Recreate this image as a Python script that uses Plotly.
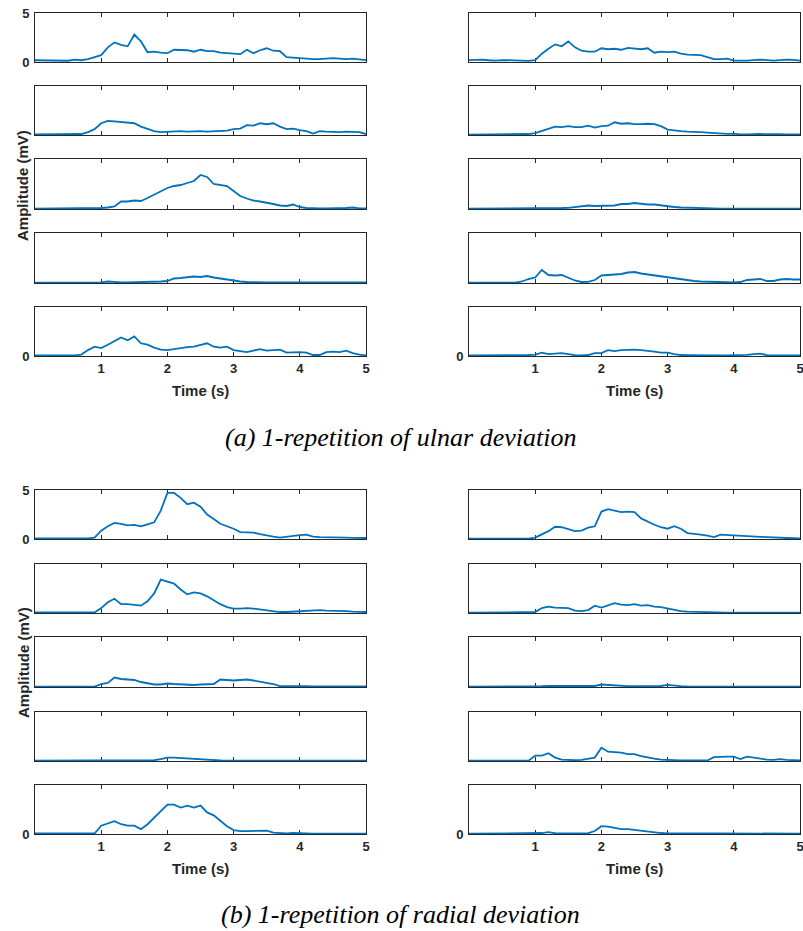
import plotly.graph_objects as go

# ---------------- data (mV), sampled every 0.1 s from 0 to 5 s ----------------
time_s = [round(i * 0.1, 1) for i in range(51)]

# (a) ulnar deviation, left column (channels 1-5)
a_L1 = [0.18,0.17,0.15,0.15,0.12,0.13,0.25,0.18,0.3,0.5, 0.7,1.5,2.0,1.75,1.6,2.8,2.1,1.0,1.05,0.95,
        0.9,1.25,1.2,1.2,1.05,1.25,1.1,1.1,0.95,0.9, 0.85,0.8,1.25,0.9,1.2,1.4,1.15,1.1,0.5,0.45,
        0.4,0.3,0.3,0.3,0.35,0.4,0.35,0.3,0.35,0.3, 0.2]
a_L2 = [0.05,0.05,0.05,0.05,0.05,0.05,0.05,0.1,0.3,0.6, 1.2,1.45,1.4,1.35,1.25,1.2,0.85,0.6,0.4,0.3,
        0.35,0.35,0.4,0.35,0.4,0.4,0.35,0.4,0.4,0.45, 0.6,0.65,1.0,0.95,1.2,1.1,1.2,0.85,0.6,0.65,
        0.5,0.4,0.15,0.4,0.35,0.3,0.3,0.35,0.35,0.3, 0.1]
a_L3 = [0.03,0.03,0.03,0.03,0.03,0.03,0.03,0.03,0.03,0.03, 0.1,0.15,0.25,0.75,0.75,0.85,0.8,1.1,1.45,1.75,
        2.1,2.3,2.4,2.6,2.8,3.4,3.2,2.5,2.4,2.3, 1.8,1.3,1.05,0.85,0.75,0.65,0.5,0.35,0.3,0.45,
        0.2,0.1,0.05,0.05,0.05,0.05,0.05,0.1,0.15,0.05, 0.05]
a_L4 = [0.04,0.04,0.04,0.04,0.04,0.04,0.04,0.04,0.04,0.04, 0.06,0.15,0.08,0.06,0.06,0.07,0.08,0.1,0.1,0.15,
        0.2,0.45,0.5,0.55,0.65,0.6,0.7,0.55,0.45,0.3, 0.25,0.15,0.1,0.06,0.05,0.05,0.05,0.05,0.05,0.05,
        0.05,0.05,0.05,0.05,0.05,0.05,0.05,0.05,0.05,0.05, 0.05]
a_L5 = [0.05,0.05,0.05,0.05,0.05,0.05,0.05,0.15,0.6,0.95, 0.8,1.15,1.5,1.9,1.6,2.0,1.3,1.15,0.85,0.65,
        0.6,0.7,0.85,0.9,0.95,1.1,1.3,0.95,0.85,0.95, 0.6,0.5,0.4,0.55,0.7,0.55,0.6,0.65,0.35,0.4,
        0.4,0.35,0.1,0.1,0.4,0.45,0.4,0.55,0.3,0.15, 0.05]

# (a) ulnar deviation, right column (channels 6-10)
a_R1 = [0.2,0.22,0.25,0.18,0.15,0.2,0.18,0.1,0.12,0.12, 0.2,0.85,1.35,1.8,1.6,2.1,1.5,1.15,1.05,1.05,
        1.4,1.3,1.35,1.25,1.45,1.35,1.3,1.4,0.95,1.05, 1.0,1.05,0.85,0.75,0.75,0.7,0.5,0.3,0.3,0.35,
        0.15,0.12,0.15,0.2,0.25,0.2,0.15,0.2,0.25,0.22, 0.15]
a_R2 = [0.03,0.03,0.03,0.03,0.03,0.03,0.03,0.03,0.05,0.1, 0.2,0.4,0.6,0.85,0.8,0.9,0.8,0.8,0.95,0.75,
        0.9,0.95,1.3,1.15,1.2,1.1,1.1,1.15,1.1,0.9, 0.55,0.45,0.4,0.35,0.35,0.3,0.25,0.2,0.1,0.12,
        0.15,0.05,0.05,0.1,0.1,0.08,0.1,0.08,0.06,0.08, 0.05]
a_R3 = [0.03,0.03,0.03,0.03,0.03,0.03,0.03,0.03,0.03,0.03, 0.03,0.05,0.05,0.07,0.1,0.12,0.2,0.3,0.35,0.3,
        0.3,0.35,0.35,0.5,0.5,0.6,0.5,0.45,0.45,0.35, 0.3,0.2,0.15,0.12,0.1,0.08,0.06,0.04,0.03,0.03,
        0.03,0.03,0.03,0.03,0.03,0.03,0.03,0.03,0.03,0.03, 0.03]
a_R4 = [0.04,0.04,0.04,0.04,0.04,0.04,0.04,0.04,0.15,0.4, 0.55,1.3,0.8,0.75,0.8,0.55,0.25,0.1,0.12,0.3,
        0.75,0.8,0.85,0.9,1.05,1.1,0.95,0.85,0.75,0.65, 0.55,0.45,0.35,0.3,0.2,0.15,0.12,0.1,0.08,0.06,
        0.05,0.1,0.3,0.35,0.4,0.2,0.2,0.35,0.4,0.35, 0.35]
a_R5 = [0.05,0.05,0.05,0.05,0.05,0.05,0.05,0.05,0.05,0.1, 0.15,0.35,0.2,0.25,0.3,0.2,0.08,0.05,0.1,0.3,
        0.3,0.6,0.5,0.6,0.65,0.65,0.6,0.55,0.45,0.35, 0.35,0.2,0.1,0.08,0.06,0.05,0.05,0.05,0.05,0.05,
        0.05,0.05,0.12,0.2,0.25,0.08,0.06,0.05,0.05,0.05, 0.05]

# (b) radial deviation, left column
b_L1 = [0.05,0.05,0.05,0.05,0.05,0.05,0.05,0.05,0.05,0.15, 0.85,1.3,1.65,1.55,1.4,1.45,1.3,1.5,1.7,2.9,
        4.7,4.7,4.2,3.55,3.7,3.3,2.5,2.05,1.55,1.3, 1.05,0.7,0.7,0.65,0.5,0.35,0.25,0.15,0.25,0.3,
        0.4,0.45,0.25,0.2,0.2,0.18,0.15,0.15,0.12,0.12, 0.1]
b_L2 = [0.05,0.05,0.05,0.05,0.05,0.05,0.05,0.05,0.05,0.05, 0.5,1.1,1.45,0.9,0.9,0.85,0.75,1.2,2.0,3.4,
        3.2,3.0,2.4,1.9,2.1,2.0,1.7,1.3,0.9,0.6, 0.45,0.45,0.5,0.45,0.35,0.3,0.2,0.1,0.1,0.15,
        0.2,0.2,0.25,0.3,0.25,0.25,0.2,0.2,0.15,0.12, 0.1]
b_L3 = [0.03,0.03,0.03,0.03,0.03,0.03,0.03,0.03,0.03,0.03, 0.3,0.4,0.95,0.8,0.75,0.7,0.5,0.4,0.25,0.25,
        0.35,0.3,0.25,0.2,0.2,0.25,0.3,0.3,0.75,0.7, 0.65,0.7,0.75,0.65,0.55,0.45,0.3,0.08,0.08,0.15,
        0.1,0.08,0.05,0.05,0.05,0.05,0.05,0.05,0.05,0.05, 0.05]
b_L4 = [0.03,0.03,0.03,0.03,0.03,0.03,0.03,0.03,0.03,0.03, 0.04,0.04,0.05,0.04,0.04,0.04,0.04,0.05,0.08,0.2,
        0.35,0.35,0.3,0.25,0.2,0.15,0.1,0.07,0.05,0.04, 0.03,0.03,0.03,0.03,0.03,0.03,0.03,0.03,0.03,0.03,
        0.03,0.03,0.03,0.03,0.03,0.03,0.03,0.03,0.03,0.03, 0.03]
b_L5 = [0.05,0.05,0.05,0.05,0.08,0.05,0.05,0.05,0.05,0.05, 0.85,1.1,1.3,1.0,0.85,0.85,0.5,1.0,1.7,2.4,
        3.0,3.0,2.7,2.9,2.7,2.9,2.2,1.9,1.3,0.8, 0.4,0.3,0.3,0.3,0.3,0.35,0.15,0.08,0.05,0.12,
        0.08,0.05,0.04,0.04,0.04,0.04,0.04,0.04,0.04,0.04, 0.04]

# (b) radial deviation, right column
b_R1 = [0.03,0.03,0.03,0.03,0.03,0.03,0.03,0.03,0.03,0.03, 0.15,0.45,0.8,1.25,1.2,1.0,0.8,0.85,1.15,1.3,
        2.8,3.05,2.9,2.75,2.8,2.75,2.1,1.75,1.45,1.2, 1.05,1.3,1.05,0.6,0.55,0.45,0.35,0.2,0.45,0.4,
        0.35,0.3,0.25,0.2,0.22,0.2,0.15,0.12,0.1,0.08, 0.05]
b_R2 = [0.03,0.03,0.03,0.03,0.03,0.03,0.03,0.03,0.03,0.03, 0.1,0.5,0.65,0.55,0.55,0.5,0.25,0.2,0.3,0.75,
        0.55,0.8,1.0,0.85,0.8,0.9,0.75,0.8,0.65,0.6, 0.45,0.3,0.2,0.15,0.12,0.1,0.08,0.05,0.03,0.03,
        0.03,0.03,0.03,0.03,0.03,0.03,0.03,0.03,0.03,0.03, 0.03]
b_R3 = [0.03,0.03,0.03,0.03,0.03,0.03,0.03,0.03,0.03,0.03, 0.03,0.08,0.12,0.12,0.1,0.07,0.06,0.06,0.07,0.1,
        0.25,0.2,0.12,0.1,0.08,0.08,0.07,0.07,0.08,0.1, 0.22,0.12,0.08,0.05,0.03,0.03,0.03,0.03,0.03,0.03,
        0.03,0.03,0.03,0.03,0.03,0.03,0.03,0.03,0.03,0.03, 0.03]
b_R4 = [0.03,0.03,0.03,0.03,0.03,0.03,0.03,0.03,0.03,0.03, 0.55,0.55,0.8,0.35,0.15,0.1,0.08,0.12,0.25,0.35,
        1.35,0.95,0.9,0.85,0.7,0.7,0.5,0.35,0.25,0.15, 0.1,0.07,0.06,0.05,0.05,0.05,0.05,0.4,0.45,0.45,
        0.45,0.2,0.45,0.35,0.2,0.15,0.12,0.2,0.12,0.08, 0.05]
b_R5 = [0.03,0.03,0.03,0.03,0.03,0.03,0.03,0.03,0.03,0.03, 0.03,0.1,0.2,0.08,0.05,0.04,0.03,0.04,0.08,0.3,
        0.8,0.75,0.6,0.5,0.5,0.42,0.35,0.22,0.15,0.1, 0.06,0.05,0.04,0.04,0.04,0.04,0.05,0.06,0.07,0.07,
        0.06,0.05,0.03,0.03,0.03,0.03,0.03,0.03,0.03,0.03, 0.03]

x_ticks = [1, 2, 3, 4, 5]
y_range = [0, 5]
x_range = [0, 5]
captions = ["(a) 1-repetition of ulnar deviation", "(b) 1-repetition of radial deviation"]
x_title = "Time (s)"
y_title = "Amplitude (mV)"

groups = [
    [[a_L1, a_L2, a_L3, a_L4, a_L5], [a_R1, a_R2, a_R3, a_R4, a_R5]],
    [[b_L1, b_L2, b_L3, b_L4, b_L5], [b_R1, b_R2, b_R3, b_R4, b_R5]],
]

# ---------------- layout geometry (pixels) ----------------
W, H = 803, 931
col_x = [(35, 366), (469, 800)]
row_y = [
    [(13, 62), (86, 135), (159, 209), (233, 283), (307, 356)],
    [(490, 539), (564, 613), (637, 687), (712, 761), (785, 834)],
]
xtitle_y = [390, 868]
ytitle_y = [186, 663]
caption_y = [437, 914]

LINE = "#0072BD"
AX = "#262626"
tickfont = dict(family="Liberation Sans, Arial, sans-serif", size=13, color=AX, weight="bold")
titlefont = dict(family="Liberation Sans, Arial, sans-serif", size=15, color=AX, weight="bold")

fig = go.Figure()
layout = dict(width=W, height=H, margin=dict(l=0, r=0, t=0, b=0, autoexpand=False),
              paper_bgcolor="white", plot_bgcolor="white", showlegend=False)

k = 0
for g in range(2):
    for c in range(2):
        for r in range(5):
            k += 1
            sfx = "" if k == 1 else str(k)
            series = groups[g][c][r]
            assert len(series) == len(time_s), (g, c, r, len(series))
            fig.add_trace(go.Scatter(x=time_s, y=series, mode="lines",
                                     line=dict(color=LINE, width=1.8),
                                     xaxis="x" + sfx, yaxis="y" + sfx, hoverinfo="skip"))
            x0, x1 = col_x[c]
            y0, y1 = row_y[g][r]
            bottom = (r == 4)
            layout["xaxis" + sfx] = dict(
                domain=[x0 / W, x1 / W], anchor="y" + sfx, range=x_range, automargin=False,
                showline=True, linecolor=AX, linewidth=1, mirror="ticks",
                ticks="inside", ticklen=4, tickwidth=1, tickcolor=AX,
                tickvals=x_ticks, ticktext=[str(v) for v in x_ticks],
                showticklabels=bottom, tickfont=tickfont, ticklabeloverflow="allow",
                showgrid=False, zeroline=False, layer="below traces", fixedrange=True)
            if r == 0 and c == 0:
                yv, ylab = [0, 5], True
            elif r == 4:
                yv, ylab = [0], True
            else:
                yv, ylab = [0, 5], False
            layout["yaxis" + sfx] = dict(
                domain=[1 - y1 / H, 1 - y0 / H], anchor="x" + sfx, range=y_range, automargin=False,
                showline=True, linecolor=AX, linewidth=1, mirror="ticks",
                ticks="inside", ticklen=4, tickwidth=1, tickcolor=AX,
                tickvals=yv, ticktext=[str(v) for v in yv], showticklabels=ylab,
                tickfont=tickfont, ticklabelstandoff=2, ticklabeloverflow="allow",
                showgrid=False, zeroline=False, layer="below traces", fixedrange=True)

annotations = []
for g in range(2):
    for c in range(2):
        cx = (col_x[c][0] + col_x[c][1]) / 2
        annotations.append(dict(text=x_title, x=cx / W, y=1 - xtitle_y[g] / H, xref="paper", yref="paper",
                                xanchor="center", yanchor="middle", showarrow=False, font=titlefont))
    annotations.append(dict(text=y_title, x=23 / W, y=1 - ytitle_y[g] / H, xref="paper", yref="paper",
                            xanchor="center", yanchor="middle", showarrow=False, textangle=-90, font=titlefont))
    annotations.append(dict(text=captions[g], x=400 / W, y=1 - caption_y[g] / H, xref="paper", yref="paper",
                            xanchor="center", yanchor="middle", showarrow=False,
                            font=dict(family="Liberation Serif, Times New Roman, serif", size=26,
                                      style="italic", color="black")))
layout["annotations"] = annotations
fig.update_layout(**layout)
fig.write_html("out.html")
